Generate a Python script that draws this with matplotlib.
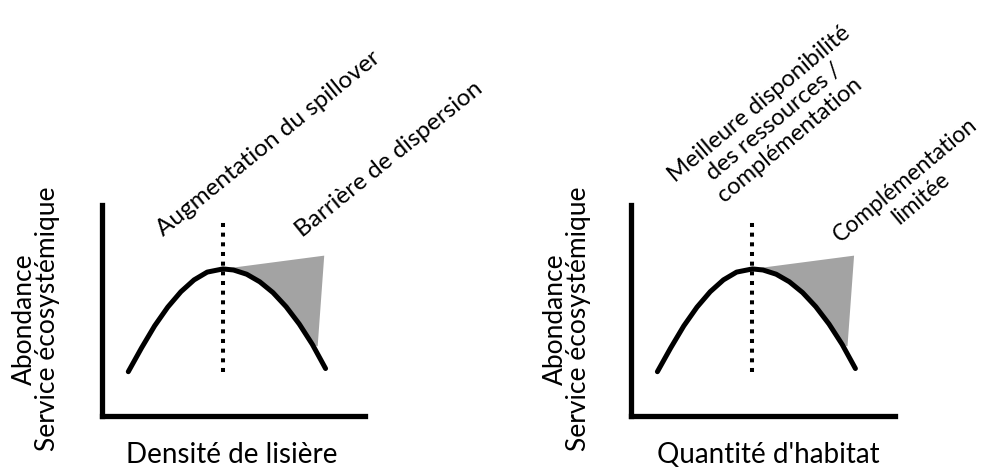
import matplotlib.pyplot as plt

plt.rcParams['font.family'] = ['Lato', 'DejaVu Sans']

# courbe en cloche (unites arbitraires, axes 0-10)
curve_x = [1.0, 1.5, 2.0, 2.5, 3.0, 3.5, 4.0, 4.6, 5.0, 5.5, 6.0, 6.5, 7.0, 7.5, 8.0, 8.5]
curve_y = [2.10, 3.22, 4.27, 5.16, 5.89, 6.45, 6.82, 6.97, 6.92, 6.72, 6.36, 5.85, 5.18, 4.36, 3.39, 2.25]
peak_x = 4.6
dots_y = [2.1, 9.4]
# zone grise: coin haut-droit et pointe basse
shade_top = (8.45, 7.6)
shade_tip = (8.2, 3.3)

x_labels = ["Densité de lisière", "Quantité d'habitat"]
y_label = "Abondance\nService écosystémique"
notes_peak = ["Augmentation du spillover",
              "Meilleure disponibilité\ndes ressources /\ncomplémentation"]
notes_drop = ["Barrière de dispersion", "Complémentation\nlimitée"]

W, H = 996, 468


def fx(px):
    return px / W


def fy(py):
    return 1 - py / H


fig = plt.figure(figsize=(W / 100, H / 100), dpi=100)

# (gauche, droite) des axes en pixels, haut et bas communs
panels = [(102, 365), (631, 895)]
top, bottom = 205, 416

for i, (x0, x1) in enumerate(panels):
    ax = fig.add_axes([fx(x0), fy(bottom), (x1 - x0) / W, (bottom - top) / H])
    ax.set_xlim(0, 10)
    ax.set_ylim(0, 10)
    ax.spines['top'].set_visible(False)
    ax.spines['right'].set_visible(False)
    for s in ['left', 'bottom']:
        ax.spines[s].set_linewidth(3.8)
        ax.spines[s].set_capstyle('projecting')
    ax.set_xticks([])
    ax.set_yticks([])
    ax.patch.set_alpha(0)

    # zone grise entre le sommet et la droite
    px = [x for x in curve_x if peak_x <= x <= shade_tip[0]]
    py = [y for x, y in zip(curve_x, curve_y) if peak_x <= x <= shade_tip[0]]
    ax.fill(px + [shade_tip[0], shade_top[0]], py + [shade_tip[1], shade_top[1]],
            color='#a3a3a3', lw=0, zorder=1)
    ax.plot([peak_x, peak_x], dots_y, color='black', lw=2.9,
            linestyle=(0, (1.0, 1.4)), zorder=2)
    ax.plot(curve_x, curve_y, color='black', lw=3.6,
            solid_capstyle='round', solid_joinstyle='round', zorder=3)

# titres des axes
fig.text(fx(232), fy(463), x_labels[0], ha='center', va='baseline', fontsize=20)
fig.text(fx(768), fy(463), x_labels[1], ha='center', va='baseline', fontsize=20)
for cx in [36, 567]:
    fig.text(fx(cx), fy(319), y_label, rotation=90, ha='center', va='center',
             multialignment='center', fontsize=19, linespacing=0.9)

# annotations inclinees
fig.text(fx(163), fy(237), notes_peak[0], rotation=39, rotation_mode='anchor',
         ha='left', va='baseline', fontsize=17.5)
fig.text(fx(302), fy(238), notes_drop[0], rotation=39, rotation_mode='anchor',
         ha='left', va='baseline', fontsize=17.5)
fig.text(fx(774), fy(122), notes_peak[1], rotation=40, rotation_mode='anchor',
         ha='center', va='center', multialignment='center', fontsize=17,
         linespacing=1.15)
fig.text(fx(913), fy(189), notes_drop[1], rotation=40, rotation_mode='anchor',
         ha='center', va='center', multialignment='center', fontsize=16.5,
         linespacing=1.15)

fig.savefig('out.png', dpi=100)
